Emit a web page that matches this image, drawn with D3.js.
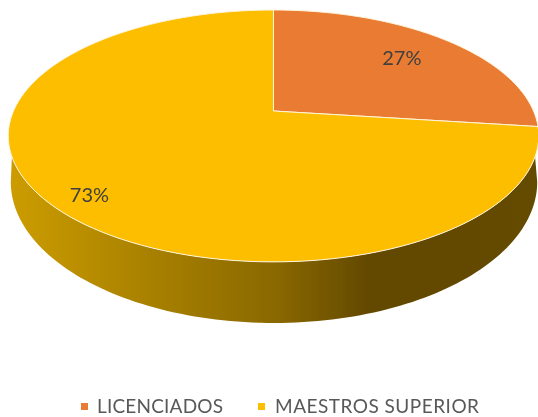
<!DOCTYPE html>
<html>
<head>
<meta charset="utf-8">
<script src="https://cdnjs.cloudflare.com/ajax/libs/d3/7.8.5/d3.min.js"></script>
<style>
html, body { margin: 0; padding: 0; background: #fff; }
text { font-family: Lato, "Open Sans", sans-serif; }
</style>
</head>
<body>
<div id="chart"></div>
<script>
var categories = ["LICENCIADOS", "MAESTROS SUPERIOR"];
var values = [27, 73];
var sliceColors = ["#e97c30", "#fdbe00"];

var width = 538,
	height = 417;

// the pie is seen in perspective, so the centre sits above the middle of the ellipse
var apex = { x: 273.5, y: 111 },
	a = 260,
	b = 121,
	k = -0.198;

// bottom rim of the wall
var rim = { x: 274, y: 154, a: 258, b: 135.5 };

var labelR = [0.72, 0.84];
var labelDy = [-1, 8];
var legendX = [81, 258];
var legendW = [126, 204];

var svg = d3.select("#chart").append("svg")
	.attr("width", width)
	.attr("height", height);

var defs = svg.append("defs");

defs.append("filter").attr("id", "soft")
	.attr("x", "-5%").attr("y", "-5%").attr("width", "110%").attr("height", "110%")
	.append("feGaussianBlur").attr("stdDeviation", 0.5);

var wallGrad = defs.append("linearGradient").attr("id", "wall");
[[0, "#cc9c00"], [0.25, "#aa8200"], [0.5, "#8a6900"], [0.68, "#634900"], [1, "#654b00"]].forEach(function(s) {
	wallGrad.append("stop").attr("offset", s[0]).attr("stop-color", s[1]);
});

function project(t, r, o) {
	o = o || { x: apex.x, y: apex.y, a: a, b: b };
	var u = Math.sin(t) * r,
		v = -Math.cos(t) * r,
		w = 1 + k * v;
	return [o.x + o.a * u / w, o.y + o.b * v / w];
}

var line = d3.line();
var pie = d3.pie().sort(null)(values);

function rimPoints(t0, t1, o) {
	var n = 120;
	return d3.range(n + 1).map(function(i) {
		return project(t0 + (t1 - t0) * i / n, 1, o);
	});
}

var g = svg.append("g").attr("filter", "url(#soft)");

// wall: front part of the disc, top edge starts a bit below the widest point
var topFrom = Math.PI / 2 + 0.36,
	topTo = 3 * Math.PI / 2 - 0.36,
	rimFrom = Math.PI / 2 + 0.2,
	rimTo = 3 * Math.PI / 2 - 0.2;
var wall = rimPoints(topFrom, topTo).concat(rimPoints(rimTo, rimFrom, rim));
g.append("path")
	.attr("d", line(wall) + "Z")
	.attr("fill", "url(#wall)");

g.selectAll(".slice")
	.data(pie)
	.enter().append("path")
	.attr("class", "slice")
	.attr("d", function(d) {
		return line([[apex.x, apex.y]].concat(rimPoints(d.startAngle, d.endAngle))) + "Z";
	})
	.attr("fill", function(d, i) { return sliceColors[i]; })
	.attr("stroke", "#fff4dc")
	.attr("stroke-width", 1)
	.attr("stroke-linejoin", "round");

g.selectAll(".pct")
	.data(pie)
	.enter().append("text")
	.attr("class", "pct")
	.attr("transform", function(d, i) {
		var p = project((d.startAngle + d.endAngle) / 2, labelR[i]);
		return "translate(" + p[0] + "," + (p[1] + labelDy[i]) + ")";
	})
	.attr("text-anchor", "middle")
	.attr("dy", "0.36em")
	.attr("font-size", 20)
	.attr("fill", "#404040")
	.text(function(d) { return d.value + "%"; });

var legend = g.selectAll(".legend")
	.data(categories)
	.enter().append("g")
	.attr("class", "legend")
	.attr("transform", function(d, i) { return "translate(" + legendX[i] + ",406)"; });

legend.append("rect")
	.attr("y", -3)
	.attr("width", 7)
	.attr("height", 7)
	.attr("fill", function(d, i) { return sliceColors[i]; });

legend.append("text")
	.attr("x", function(d, i) { return i ? 17 : 16; })
	.attr("dy", "0.36em")
	.attr("font-size", 19)
	.attr("textLength", function(d, i) { return legendW[i]; })
	.attr("lengthAdjust", "spacing")
	.attr("fill", "#595959")
	.text(function(d) { return d; });
</script>
</body>
</html>
